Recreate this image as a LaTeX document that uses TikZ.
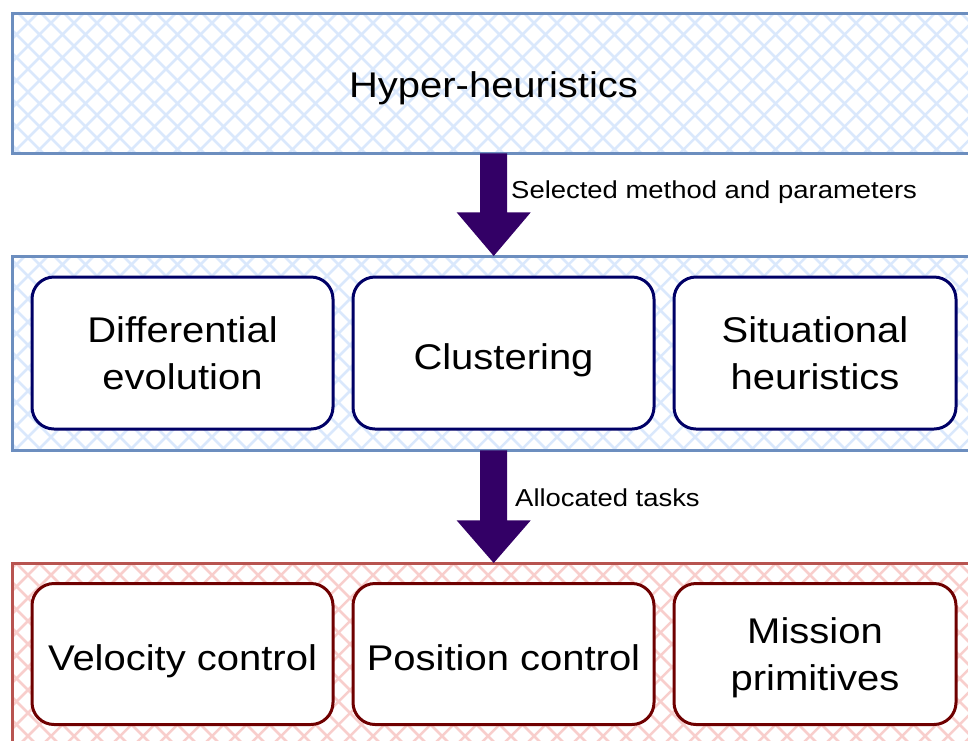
\documentclass[tikz,border=0pt]{standalone}
\usepackage{fontspec}
\setmainfont{Liberation Sans}[FakeStretch=1.12]
\usetikzlibrary{calc}
\definecolor{bluestroke}{HTML}{6C8EBF}
\definecolor{bluefill}{HTML}{DAE8FC}
\definecolor{redstroke}{HTML}{B85450}
\definecolor{redfill}{HTML}{F8CECC}
\definecolor{navyc}{HTML}{000066}
\definecolor{maroonc}{HTML}{6F0000}
\definecolor{arrowc}{HTML}{330066}
\newcommand\upstrut{\rule{0pt}{32pt}}
\newcommand\hatchbox[2]{%
  \begin{scope}
    \clip (#1.north west) rectangle (#1.south east);
    \foreach \k in {-800,-777,...,1800} {
      \draw[#2, line width=2.5pt] (\k,0) -- ++(800,800);
      \draw[#2, line width=2.5pt] (\k,0) -- ++(-800,800);
    }
  \end{scope}}
\begin{document}
\begin{tikzpicture}[x=1pt,y=-1pt,
  outerbox/.style={inner sep=0pt, minimum width=963pt, anchor=north west},
  innerbox/.style={draw, line width=3pt, rounded corners=22pt, fill=white,
    minimum width=301pt, align=center, inner sep=0pt, text depth=0pt,
    execute at begin node=\upstrut,
    font=\fontsize{35.7}{47}\selectfont},
  bigarrow/.style={fill=arrowc},
  lbl/.style={anchor=base west, inner sep=0pt, font=\fontsize{24.5}{29}\selectfont}]
\useasboundingbox (0,0) rectangle (968,740);
% outer boxes
\node[outerbox, minimum height=140pt] (top) at (12,13) {};
\node[outerbox, minimum height=194pt] (mid) at (12,256) {};
\node[outerbox, minimum height=190pt] (bot) at (12,563) {};
\hatchbox{top}{bluefill}
\hatchbox{mid}{bluefill}
\hatchbox{bot}{redfill}
\draw[bluestroke, line width=3pt] (top.north west) rectangle (top.south east);
\draw[bluestroke, line width=3pt] (mid.north west) rectangle (mid.south east);
\draw[redstroke, line width=3pt] (bot.north west) rectangle (bot.south east);
\node[anchor=base, inner sep=0pt, font=\fontsize{35.7}{42}\selectfont] (title) at (493.5,97) {Hyper-heuristics};
% inner boxes
\node[innerbox, draw=navyc, minimum height=152pt] (de) at (182.5,353) {Differential\\evolution};
\node[innerbox, draw=navyc, minimum height=152pt] (cl) at (503.5,353) {Clustering};
\node[innerbox, draw=navyc, minimum height=152pt, minimum width=282pt] (sh) at (815,353) {Situational\\heuristics};
\node[innerbox, draw=maroonc, minimum height=141pt] (vc) at (182.5,654) {Velocity control};
\node[innerbox, draw=maroonc, minimum height=141pt] (pc) at (503.5,654) {Position control};
\node[innerbox, draw=maroonc, minimum height=141pt, minimum width=282pt] (mp) at (815,654) {Mission\\primitives};
% arrows
\fill[bigarrow] ($(top.south)+(-13.5,0)$) -- ($(top.south)+(13.5,0)$) -- ($(top.south)+(13.5,59)$)
  -- ($(top.south)+(37,59)$) -- (mid.north) -- ($(top.south)+(-37,59)$) -- ($(top.south)+(-13.5,59)$) -- cycle;
\fill[bigarrow] ($(mid.south)+(-13.5,0)$) -- ($(mid.south)+(13.5,0)$) -- ($(mid.south)+(13.5,70)$)
  -- ($(mid.south)+(37,70)$) -- (bot.north) -- ($(mid.south)+(-37,70)$) -- ($(mid.south)+(-13.5,70)$) -- cycle;
\node[lbl] (l1) at (511,198) {Selected method and parameters};
\node[lbl] (l2) at (515,506) {Allocated tasks};
\end{tikzpicture}
\end{document}
